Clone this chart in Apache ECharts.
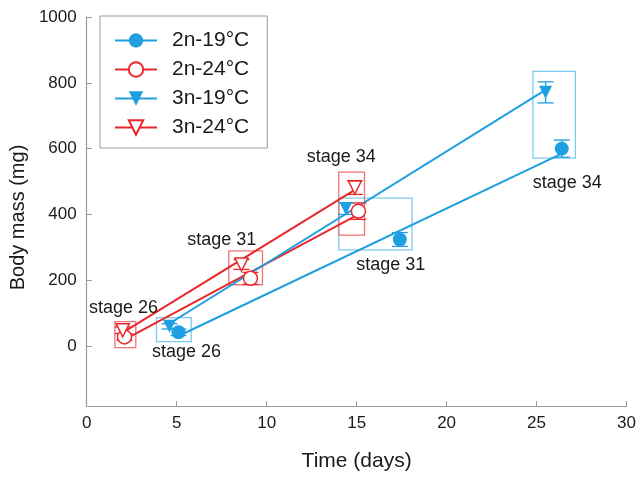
<!DOCTYPE html>
<html><head><meta charset="utf-8">
<script src="https://cdn.jsdelivr.net/npm/echarts@6/dist/echarts.min.js"></script>
<style>html,body{margin:0;padding:0;background:#fff}#c{width:639px;height:477px}</style>
</head><body><div id="c"></div>
<script>
// ---- data ----
const groupNames = ['2n-19°C', '2n-24°C', '3n-19°C', '3n-24°C'];
const days_2n19 = [5.1, 17.4, 26.4];
const mass_2n19 = [42, 324, 600];
const err_2n19  = [10, 21, 26];
const days_2n24 = [2.1, 9.1, 15.1];
const mass_2n24 = [28, 206, 410];
const err_2n24  = [10, 18, 25];
const days_3n19 = [4.6, 14.4, 25.5];
const mass_3n19 = [60, 418, 771];
const err_3n19  = [8, 18, 32];
const days_3n24 = [2.0, 8.6, 14.9];
const mass_3n24 = [48, 248, 482];
const err_3n24  = [10, 15, 21];
const stageNames = ['stage 26', 'stage 31', 'stage 34'];
// stage boxes (days / mass extents)
const box19_d0 = [3.85, 13.98, 24.77];
const box19_d1 = [5.78, 18.05, 27.13];
const box19_m0 = [15, 294, 573];
const box19_m1 = [88, 451, 836];
const box24_d0 = [1.54, 7.87, 13.98];
const box24_d1 = [2.70, 9.74, 15.41];
const box24_m0 = [-3, 188, 339];
const box24_m1 = [76, 291, 530];
// stage label anchors (days / mass)
const lab19_d = [5.55, 16.9, 26.7];
const lab19_m = [-18, 245, 497];
const lab24_d = [2.05, 7.5, 14.15];
const lab24_m = [115, 321, 576];
const yTicks = [0, 200, 400, 600, 800, 1000];

// ---- styles ----
const BLUE = '#1e9fdf', RED = '#e8282c', BLUE_BOX = '#7ccbee', RED_BOX = '#ef7474';
const FONT = 'Arial, "Liberation Sans", Helvetica, sans-serif';
const TEXT = '#1a1a1a';

function fit(xs, ys) {
  const n = xs.length;
  const mx = xs.reduce((a, b) => a + b, 0) / n, my = ys.reduce((a, b) => a + b, 0) / n;
  let sxx = 0, sxy = 0;
  for (let i = 0; i < n; i++) { sxx += (xs[i] - mx) ** 2; sxy += (xs[i] - mx) * (ys[i] - my); }
  const b = sxy / sxx, a = my - b * mx;
  const x0 = Math.min(...xs), x1 = Math.max(...xs);
  return [[x0, a + b * x0], [x1, a + b * x1]];
}

const groups = [
  { name: groupNames[0], d: days_2n19, m: mass_2n19, e: err_2n19, color: BLUE, open: false, sym: 'circle', rot: 0 },
  { name: groupNames[1], d: days_2n24, m: mass_2n24, e: err_2n24, color: RED, open: true, sym: 'circle', rot: 0 },
  { name: groupNames[2], d: days_3n19, m: mass_3n19, e: err_3n19, color: BLUE, open: false, sym: 'triangle', rot: 180 },
  { name: groupNames[3], d: days_3n24, m: mass_3n24, e: err_3n24, color: RED, open: true, sym: 'triangle', rot: 180 }
];

const series = [];
function boxSeries(d0, d1, m0, m1, color) {
  return {
    type: 'custom', silent: true, z: 1,
    data: d0.map((v, i) => [d0[i], m0[i], d1[i], m1[i]]),
    renderItem: function (params, api) {
      const p0 = api.coord([api.value(0), api.value(1)]);
      const p1 = api.coord([api.value(2), api.value(3)]);
      return { type: 'rect', shape: { x: Math.min(p0[0], p1[0]) + 0.5, y: Math.min(p0[1], p1[1]) + 0.5,
        width: Math.abs(p1[0] - p0[0]), height: Math.abs(p1[1] - p0[1]) },
        style: { fill: 'none', stroke: color, lineWidth: 1.3 } };
    }
  };
}
series.push(boxSeries(box19_d0, box19_d1, box19_m0, box19_m1, BLUE_BOX));
series.push(boxSeries(box24_d0, box24_d1, box24_m0, box24_m1, RED_BOX));

groups.forEach(g => {
  series.push({
    name: g.name, type: 'line', z: 3, data: fit(g.d, g.m), showSymbol: false,
    symbol: g.open ? 'empty' + g.sym[0].toUpperCase() + g.sym.slice(1) : g.sym,
    symbolRotate: g.rot, symbolSize: 14,
    lineStyle: { color: g.color, width: 2 },
    itemStyle: { color: g.color },
    silent: true
  });
});
groups.forEach(g => {
  series.push({
    type: 'custom', z: 4, silent: true,
    data: g.d.map((v, i) => [g.d[i], g.m[i], g.e[i]]),
    renderItem: function (params, api) {
      const x = api.value(0), y = api.value(1), e = api.value(2);
      const top = api.coord([x, y + e]), bot = api.coord([x, y - e]);
      const hw = 8;
      const st = { stroke: g.color, lineWidth: 1.3 };
      return { type: 'group', children: [
        { type: 'line', shape: { x1: top[0], y1: top[1], x2: bot[0], y2: bot[1] }, style: st },
        { type: 'line', shape: { x1: top[0] - hw, y1: top[1], x2: top[0] + hw, y2: top[1] }, style: st },
        { type: 'line', shape: { x1: bot[0] - hw, y1: bot[1], x2: bot[0] + hw, y2: bot[1] }, style: st }
      ] };
    }
  });
  series.push({
    name: g.name + ' pts', type: 'scatter', z: 5, silent: true,
    data: g.d.map((v, i) => [g.d[i], g.m[i]]),
    symbol: g.sym, symbolRotate: g.rot, symbolSize: g.sym === 'circle' ? 14 : 13,
    itemStyle: g.open ? { color: '#fff', borderColor: g.color, borderWidth: 1.5, opacity: 1 }
                      : { color: g.color, opacity: 1 }
  });
});
function labelSeries(ds, ms) {
  return {
    type: 'scatter', z: 6, silent: true, symbolSize: 1,
    itemStyle: { opacity: 0 },
    data: ds.map((v, i) => ({ value: [ds[i], ms[i]], name: stageNames[i] })),
    label: { show: true, position: 'inside', formatter: p => p.name,
      color: TEXT, opacity: 1, fontSize: 18, fontFamily: FONT }
  };
}
series.push(labelSeries(lab19_d, lab19_m));
series.push(labelSeries(lab24_d, lab24_m));

const chart = echarts.init(document.getElementById('c'), null, { renderer: 'canvas' });
chart.setOption({
  animation: false,
  backgroundColor: '#fff',
  grid: { left: 83, right: 11, top: 17, bottom: 70, containLabel: false },
  legend: {
    data: groupNames, orient: 'vertical', left: 100, top: 16,
    borderColor: '#9a9a9a', borderWidth: 1, padding: [14, 18, 10, 14],
    itemWidth: 42, itemHeight: 18, itemGap: 8, selectedMode: false,
    textStyle: { fontSize: 21, fontFamily: FONT, color: TEXT, padding: [0, 0, 0, 10] }
  },
  xAxis: {
    type: 'value', min: 0, max: 30, interval: 5,
    name: 'Time (days)', nameLocation: 'middle', nameGap: 45,
    nameTextStyle: { fontSize: 21, fontFamily: FONT, color: TEXT },
    axisLine: { show: true, onZero: false, lineStyle: { color: '#999', width: 1.2 } },
    axisTick: { show: true, inside: true, length: 5, lineStyle: { color: '#999' } },
    axisLabel: { fontSize: 17, fontFamily: FONT, color: TEXT, margin: 9 },
    splitLine: { show: false }
  },
  yAxis: {
    type: 'value', min: -182, max: 1000,
    name: 'Body mass (mg)', nameLocation: 'middle', nameGap: 44,
    nameTextStyle: { fontSize: 20, fontFamily: FONT, color: TEXT, padding: [0, 12, 0, 0] },
    axisLine: { show: true, onZero: false, lineStyle: { color: '#999', width: 1.2 } },
    axisTick: { show: true, inside: true, length: 5, lineStyle: { color: '#999' }, customValues: yTicks },
    axisLabel: { fontSize: 17, fontFamily: FONT, color: TEXT, margin: 10, customValues: yTicks,
      formatter: v => String(v) },
    splitLine: { show: false }
  },
  series: series
});
</script></body></html>
